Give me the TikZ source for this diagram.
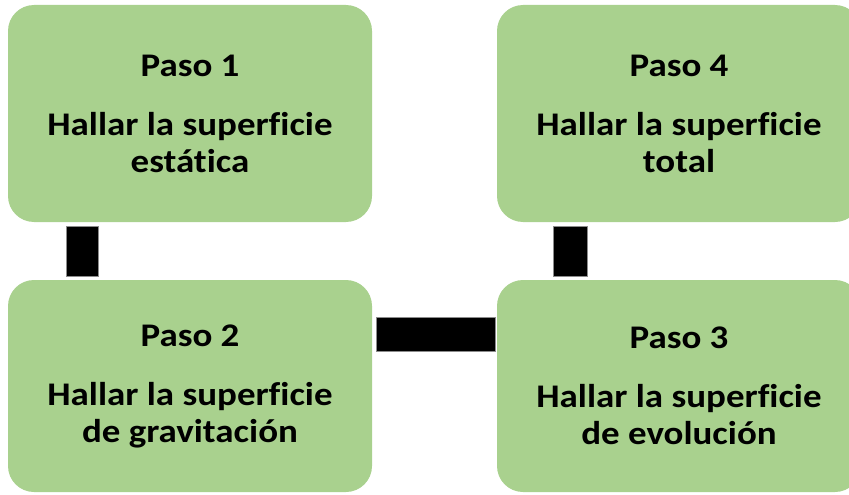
\documentclass[tikz,border=0pt]{standalone}
\usepackage{fontspec}
\setmainfont{Carlito}[Ligatures=NoCommon, FakeStretch=1.12]
\usepackage{tikz}
\usetikzlibrary{calc}
\definecolor{stepgreen}{HTML}{A9D18E}
\definecolor{barrim}{HTML}{8C8C8C}
\tikzset{
  stepbox/.style={fill=stepgreen, draw=none, rounded corners=26pt, align=center,
    font=\fontsize{33}{37}\selectfont\bfseries, inner sep=0pt,
    minimum width=364pt},
  bar/.style={draw=barrim, fill=black, line width=0.6pt},
}

\begin{document}
\begin{tikzpicture}[x=1pt,y=-1pt]
  \useasboundingbox (0,0) rectangle (849,495);
  \clip (0,0) rectangle (849,495);

  \node[stepbox, minimum height=217pt] (p1) at (190,113.5)
    {Paso 1\\[22pt]Hallar la superficie\\est\'atica};
  \node[stepbox, minimum height=212pt] (p2) at (190,386)
    {Paso 2\\[22pt]Hallar la superficie\\de gravitaci\'on};
  \node[stepbox, minimum height=212pt] (p3) at (679,386)
    {Paso 3\\[22pt]Hallar la superficie\\de evoluci\'on};
  \node[stepbox, minimum height=217pt] (p4) at (679,113.5)
    {Paso 4\\[22pt]Hallar la superficie\\total};

  % connectors
  \draw[bar] ($(p1.south)+(-124,4)$) rectangle ($(p2.north)+(-92,-4)$);
  \draw[bar] ($(p2.east)+(4,-69)$) rectangle ($(p3.west)+(-2,-35)$);
  \draw[bar] ($(p4.south)+(-126,4)$) rectangle ($(p3.north)+(-92,-4)$);
\end{tikzpicture}
\end{document}
